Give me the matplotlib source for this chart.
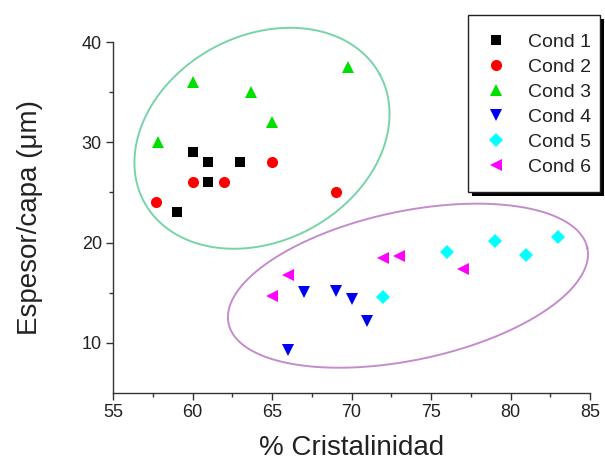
import numpy as np
import matplotlib
matplotlib.use("Agg")
import matplotlib.pyplot as plt
from matplotlib.patches import Rectangle

plt.rcParams['font.family'] = ['Liberation Sans', 'DejaVu Sans']

labels = ["Cond 1", "Cond 2", "Cond 3", "Cond 4", "Cond 5", "Cond 6"]
cond1_x = [60, 61, 63, 61, 59]
cond1_y = [29, 28, 28, 26, 23]
cond2_x = [65, 60, 62, 57.7, 69]
cond2_y = [28, 26, 26, 24, 25]
cond3_x = [60, 63.7, 69.8, 65, 57.8]
cond3_y = [36, 35, 37.5, 32, 30]
cond4_x = [67, 69, 70, 71, 66]
cond4_y = [15.1, 15.2, 14.4, 12.2, 9.3]
cond5_x = [72, 76, 79, 81, 83]
cond5_y = [14.6, 19.1, 20.2, 18.8, 20.6]
cond6_x = [66, 65, 72, 73, 77]
cond6_y = [16.8, 14.7, 18.5, 18.7, 17.4]

xs = [cond1_x, cond2_x, cond3_x, cond4_x, cond5_x, cond6_x]
ys = [cond1_y, cond2_y, cond3_y, cond4_y, cond5_y, cond6_y]
markers = ['s', 'o', '^', 'v', 'D', '<']
colors = ['#000000', '#ff0000', '#00e000', '#0000f0', '#00ffff', '#ff00ff']
sizes = [7, 8, 9, 9, 7.5, 9]

x_ticks = [55, 60, 65, 70, 75, 80, 85]
y_ticks = [10, 20, 30, 40]

# cluster ellipses: center (data), semi-axes (px), angle (deg, screen)
ell1 = dict(cx=64.37, cy=30.4, a=134, b=102.6, ang=28.4, color='#78d4a8')
ell2 = dict(cx=73.55, cy=15.7, a=183.3, b=74.4, ang=11.9, color='#c48ccc')

W, H = 605, 461
fig = plt.figure(figsize=(W/100, H/100), dpi=100)
ax = fig.add_axes([113/W, 1-393/H, (590-113)/W, (393-42)/H])
ax.patch.set_visible(False)
ax.set_xlim(55, 85)
ax.set_ylim(5, 40)

for x, y, m, c, s, l in zip(xs, ys, markers, colors, sizes, labels):
    ax.plot(x, y, linestyle='none', marker=m, color=c, markersize=s,
            markeredgewidth=0, label=l, zorder=3, clip_on=False)

# ellipses drawn in pixel-scaled units converted to data units
fig.canvas.draw()
bbox = ax.get_window_extent()
px_x = bbox.width / (85 - 55)
px_y = bbox.height / (40 - 5)
t = np.linspace(0, 2*np.pi, 400)
for e in (ell1, ell2):
    th = np.deg2rad(e['ang'])
    dx = e['a']*np.cos(t)*np.cos(th) - e['b']*np.sin(t)*np.sin(th)
    dy = e['a']*np.cos(t)*np.sin(th) + e['b']*np.sin(t)*np.cos(th)
    ax.plot(e['cx'] + dx/px_x, e['cy'] + dy/px_y, color=e['color'],
            linewidth=1.4, clip_on=False, zorder=2)

ax.spines['top'].set_visible(False)
ax.spines['right'].set_visible(False)
for sp in ('left', 'bottom'):
    ax.spines[sp].set_color('#333333')
    ax.spines[sp].set_linewidth(1.0)

ax.set_xticks(x_ticks)
ax.set_yticks(y_ticks)
ax.set_xticks([57.5, 62.5, 67.5, 72.5, 77.5, 82.5], minor=True)
ax.set_yticks([15, 25, 35], minor=True)
ax.tick_params(which='major', direction='out', length=5, width=1, color='#333333',
               labelsize=13, pad=3, labelcolor='#222222')
ax.tick_params(which='minor', direction='out', length=3, width=1, color='#333333')
ax.set_xlabel('% Cristalinidad', fontsize=20, labelpad=10, color='#222222')
ax.set_ylabel('Espesor/capa (μm)', fontsize=20, labelpad=28, color='#222222')

# legend frame + drop shadow (drawn as figure patches)
lx0, ly0, lx1, ly1 = 468, 15, 600, 192
fig.add_artist(Rectangle(((lx0 + 4)/W, 1-(ly1 + 4)/H), (lx1-lx0)/W, (ly1-ly0)/H,
                         transform=fig.transFigure, facecolor='black',
                         edgecolor='none', zorder=-2))
fig.add_artist(Rectangle((lx0/W, 1-ly1/H), (lx1-lx0)/W, (ly1-ly0)/H,
                         transform=fig.transFigure, facecolor='white',
                         edgecolor='#222222', linewidth=1.0, zorder=-1))

leg = ax.legend(loc='upper left', bbox_to_anchor=(486.3/W, 1-33.0/H),
                bbox_transform=fig.transFigure, borderaxespad=0, borderpad=0,
                frameon=False, fontsize=14, labelspacing=0.38,
                handlelength=1.0, handletextpad=1.15, numpoints=1)
for txt in leg.get_texts():
    txt.set_color('#222222')

fig.savefig('out.png', dpi=100)
